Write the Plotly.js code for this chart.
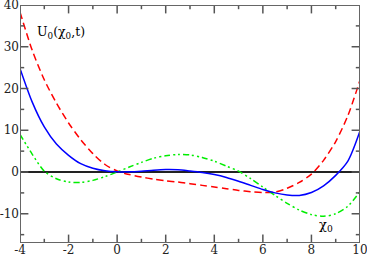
<!DOCTYPE html>
<html>
<head>
<meta charset="utf-8">
<script src="https://cdn.plot.ly/plotly-3.0.1.min.js"></script>
<style>html,body{margin:0;padding:0;background:#fff;}#chart{width:367px;height:256px;}</style>
</head>
<body>
<div id="chart"></div>
<script>
const chi = [-4,-3.5,-3,-2.5,-2,-1.5,-1,-0.5,0,0.5,1,1.5,2,2.5,3,3.5,4,4.5,5,5.5,6,6.5,7,7.5,8,8.5,9,9.5,10];
const uBlue = [24.8,16.8,10.8,6.7,4.0,2.0,0.9,0.3,0.05,0.05,0.2,0.45,0.6,0.55,0.25,-0.1,-0.6,-1.3,-2.2,-3.2,-4.2,-5.0,-5.5,-5.6,-4.9,-3.3,-0.8,2.6,9.8];
const uRed = [38.3,29.2,22.1,16.5,11.75,7.75,4.4,1.8,0.25,-0.6,-1.2,-1.7,-2.1,-2.4,-2.8,-3.2,-3.6,-4.0,-4.4,-4.7,-4.9,-4.8,-3.9,-2.5,-0.5,2.8,7.3,13.5,22.0];
const uGreen = [9.0,4.3,0.2,-1.6,-2.4,-2.5,-2.0,-1.1,0.0,1.2,2.3,3.3,3.9,4.2,4.1,3.5,2.6,1.4,0.2,-1.6,-3.6,-5.6,-7.5,-9.1,-10.2,-10.6,-10.0,-8.2,-4.7];
const xMajor = [-4,-2,0,2,4,6,8,10];
const xMinor = [-3,-1,1,3,5,7,9];
const yMajor = [-10,0,10,20,30,40];
const yMinor = [-15,-5,5,15,25,35];
const xLabels = ['-4','-2','0','2','4','6','8','10'];
const yLabels = ['-10','0','10','20','30','40'];
const xRange = [-4,10];
const yRange = [-17,40];

const serif = 'DejaVu Serif';
const tickCol = '#555';

// tick marks as clipped line markers centred on the frame (only the inner half shows)
function edgeTicks(vals, vertical, size){
  const xs = [], ys = [];
  vals.forEach(v => {
    if (vertical) { xs.push(v, v); ys.push(yRange[0], yRange[1]); }
    else { ys.push(v, v); xs.push(xRange[0], xRange[1]); }
  });
  return {x: xs, y: ys, mode:'markers', cliponaxis:true, hoverinfo:'skip',
    marker:{symbol: vertical ? 'line-ns-open' : 'line-ew-open', size:size, color:tickCol, line:{color:tickCol, width:1.5}}};
}

const traces = [
  {x: chi, y: uRed, mode:'lines', line:{color:'#ff0000', width:1.5, dash:'7px,4px', shape:'spline', smoothing:0.8}, hoverinfo:'skip'},
  {x: chi, y: uGreen, mode:'lines', line:{color:'#00ee00', width:1.5, dash:'6px,3px,2px,3px,2px,3px', shape:'spline', smoothing:0.8}, hoverinfo:'skip'},
  {x: chi, y: uBlue, mode:'lines', line:{color:'#0000ff', width:1.5, shape:'spline', smoothing:0.8}, hoverinfo:'skip'},
  edgeTicks(xMajor, true, 12),
  edgeTicks(xMinor, true, 6),
  edgeTicks(yMajor, false, 12),
  edgeTicks(yMinor, false, 6),
  {x: [xRange[0], xRange[1], xRange[1], xRange[0], xRange[0]], y: [yRange[0], yRange[0], yRange[1], yRange[1], yRange[0]],
   mode:'lines', line:{color:'#666', width:2}, cliponaxis:false, hoverinfo:'skip'}
];
const layout = {
  width:367, height:256,
  margin:{l:20, r:7, t:5, b:13, pad:0},
  paper_bgcolor:'#fff', plot_bgcolor:'#fff',
  showlegend:false, hovermode:false,
  font:{family:serif, size:12, color:'#222'},
  xaxis:{range:xRange, tickmode:'array', tickvals:xMajor, ticktext:xLabels, ticks:'', showline:false, showgrid:false, zeroline:false,
    ticklabeloverflow:'allow', ticklabelstandoff:-2, tickfont:{family:serif, size:12, color:'#222'}},
  yaxis:{range:yRange, tickmode:'array', tickvals:yMajor, ticktext:yLabels, ticks:'', showline:false, showgrid:false,
    zeroline:true, zerolinecolor:'#222', zerolinewidth:1.5,
    ticklabeloverflow:'allow', tickfont:{family:serif, size:12, color:'#222'}},
  annotations:[
    {text:'U<sub>0</sub>(χ<sub>0</sub>,t)', xref:'paper', yref:'paper', x:0.045, y:0.885, xanchor:'left', yanchor:'middle', showarrow:false, font:{family:serif, size:12.5, color:'#000'}},
    {text:'χ<sub>0</sub>', xref:'paper', yref:'paper', x:0.9, y:0.075, xanchor:'center', yanchor:'middle', showarrow:false, font:{family:serif, size:13, color:'#000'}}
  ]
};
Plotly.newPlot('chart', traces, layout, {displayModeBar:false});
</script>
</body>
</html>
